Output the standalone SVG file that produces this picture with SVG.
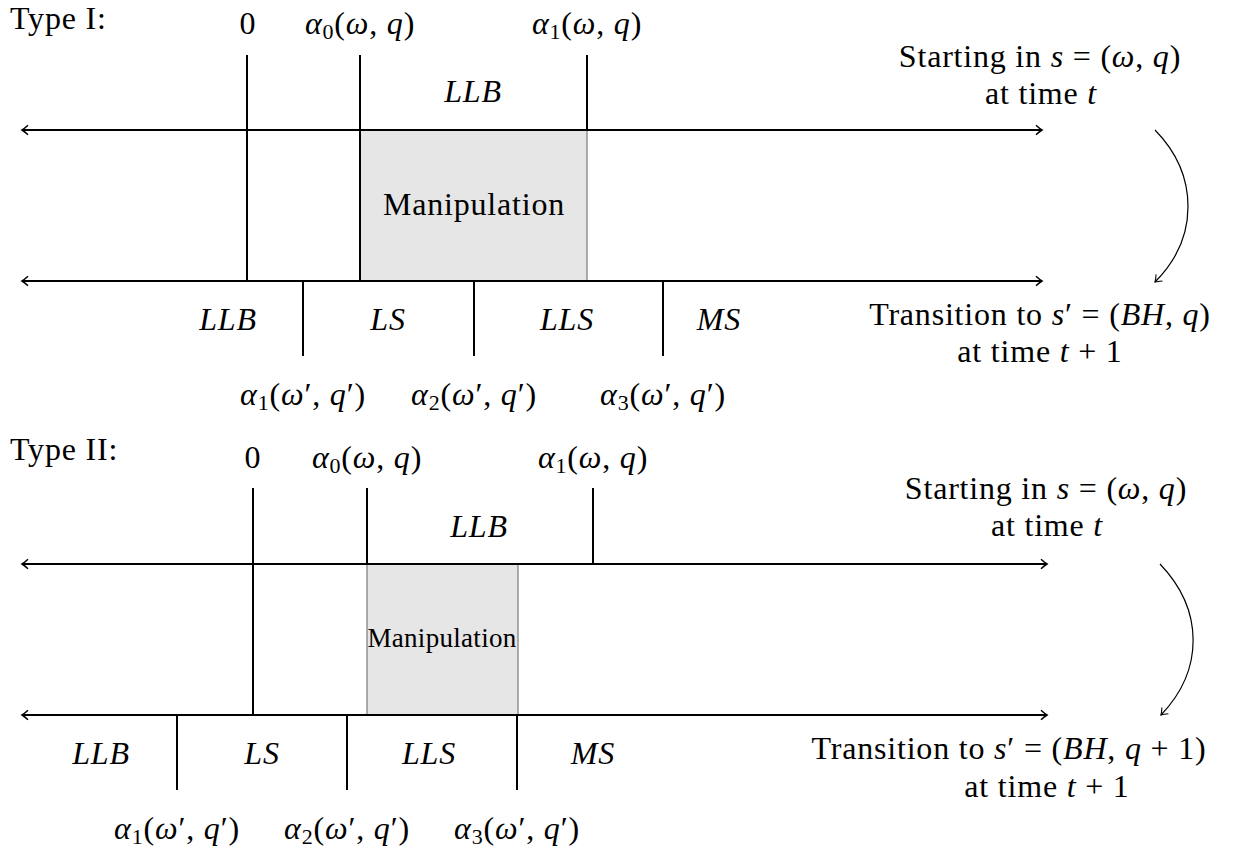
<svg xmlns="http://www.w3.org/2000/svg" width="1249" height="850" viewBox="0 0 1249 850">
<style>
.t{font-family:"Liberation Serif","Times New Roman",serif;font-size:32px;fill:#000;letter-spacing:0.8px}
.m{text-anchor:middle}
.i{font-style:italic}
.sub{font-size:22px}
.ax{stroke:#000;stroke-width:2;fill:none}
.tk{stroke:#000;stroke-width:2;fill:none}
.box{fill:#e6e6e6;stroke:#7a7a7a;stroke-width:1.2}
.cv{stroke:#000;stroke-width:1.2;fill:none}
</style>
<defs>
<marker id="ah" viewBox="-8 -6 10 12" refX="0" refY="0" markerWidth="10" markerHeight="12" orient="auto-start-reverse" markerUnits="userSpaceOnUse">
<path d="M-6,-4.8 Q-2,-1.2 0,0 Q-2,1.2 -6,4.8" fill="none" stroke="#000" stroke-width="1.5"/>
</marker>
<marker id="ah2" viewBox="-8 -6 10 12" refX="0" refY="0" markerWidth="10" markerHeight="12" orient="auto" markerUnits="userSpaceOnUse">
<path d="M-6,-4.5 Q-2,-1 0,0 Q-2,1 -6,4.5" fill="none" stroke="#000" stroke-width="1.1"/>
</marker>
</defs>
<rect width="1249" height="850" fill="#fff"/>

<g id="type1">
<g id="type1-manipulation">
<rect class="box" x="360" y="130" width="227" height="151"/>
<text class="t m" x="474" y="215">Manipulation</text>
</g>
<g id="type1-connectors">
<line class="ax" x1="22" y1="130" x2="1042" y2="130" marker-start="url(#ah)" marker-end="url(#ah)"/>
<line class="ax" x1="22" y1="281" x2="1042" y2="281" marker-start="url(#ah)" marker-end="url(#ah)"/>
<line class="tk" x1="247" y1="55" x2="247" y2="281"/>
<line class="tk" x1="360" y1="55" x2="360" y2="281"/>
<line class="tk" x1="587" y1="55" x2="587" y2="130"/>
<line class="tk" x1="303" y1="281" x2="303" y2="356"/>
<line class="tk" x1="474" y1="281" x2="474" y2="356"/>
<line class="tk" x1="663" y1="281" x2="663" y2="356"/>
<path class="cv" d="M1155,130 C1199,175 1199,238 1155,282" marker-end="url(#ah2)"/>
</g>
<g id="type1-labels">
<text class="t" x="10" y="29">Type I:</text>
<text class="t m" x="248" y="34">0</text>
<text class="t m" x="360" y="34"><tspan class="i">α</tspan><tspan class="sub" dy="5">0</tspan><tspan dy="-5">(</tspan><tspan class="i">ω</tspan>, <tspan class="i">q</tspan>)</text>
<text class="t m" x="587" y="34"><tspan class="i">α</tspan><tspan class="sub" dy="5">1</tspan><tspan dy="-5">(</tspan><tspan class="i">ω</tspan>, <tspan class="i">q</tspan>)</text>
<text class="t m i" x="473" y="102">LLB</text>
<text class="t m i" x="228" y="330">LLB</text>
<text class="t m i" x="388" y="330">LS</text>
<text class="t m i" x="567" y="330">LLS</text>
<text class="t m i" x="719" y="330">MS</text>
<text class="t m" x="303" y="405"><tspan class="i">α</tspan><tspan class="sub" dy="5">1</tspan><tspan dy="-5">(</tspan><tspan class="i">ω</tspan>′, <tspan class="i">q</tspan>′)</text>
<text class="t m" x="474" y="405"><tspan class="i">α</tspan><tspan class="sub" dy="5">2</tspan><tspan dy="-5">(</tspan><tspan class="i">ω</tspan>′, <tspan class="i">q</tspan>′)</text>
<text class="t m" x="663" y="405"><tspan class="i">α</tspan><tspan class="sub" dy="5">3</tspan><tspan dy="-5">(</tspan><tspan class="i">ω</tspan>′, <tspan class="i">q</tspan>′)</text>
<text class="t m" x="1040" y="67">Starting in <tspan class="i">s</tspan> = (<tspan class="i">ω</tspan>, <tspan class="i">q</tspan>)</text>
<text class="t m" x="1041" y="104">at time <tspan class="i">t</tspan></text>
<text class="t m" x="1040" y="325">Transition to <tspan class="i">s</tspan>′ = (<tspan class="i">BH</tspan>, <tspan class="i">q</tspan>)</text>
<text class="t m" x="1040" y="362">at time <tspan class="i">t</tspan> + 1</text>
</g>
</g>

<g id="type2">
<g id="type2-manipulation">
<rect class="box" x="367" y="564" width="151" height="151"/>
<text class="t m" x="442" y="647" style="font-size:27px;letter-spacing:0.3px">Manipulation</text>
</g>
<g id="type2-connectors">
<line class="ax" x1="22" y1="564" x2="1047" y2="564" marker-start="url(#ah)" marker-end="url(#ah)"/>
<line class="ax" x1="22" y1="715" x2="1047" y2="715" marker-start="url(#ah)" marker-end="url(#ah)"/>
<line class="tk" x1="253" y1="488" x2="253" y2="715"/>
<line class="tk" x1="367" y1="488" x2="367" y2="564"/>
<line class="tk" x1="593" y1="488" x2="593" y2="564"/>
<line class="tk" x1="177" y1="715" x2="177" y2="790"/>
<line class="tk" x1="347" y1="715" x2="347" y2="790"/>
<line class="tk" x1="517" y1="715" x2="517" y2="790"/>
<path class="cv" d="M1160,564 C1204,610 1204,670 1161,715" marker-end="url(#ah2)"/>
</g>
<g id="type2-labels">
<text class="t" x="10" y="460">Type II:</text>
<text class="t m" x="253" y="468">0</text>
<text class="t m" x="367" y="468"><tspan class="i">α</tspan><tspan class="sub" dy="5">0</tspan><tspan dy="-5">(</tspan><tspan class="i">ω</tspan>, <tspan class="i">q</tspan>)</text>
<text class="t m" x="593" y="468"><tspan class="i">α</tspan><tspan class="sub" dy="5">1</tspan><tspan dy="-5">(</tspan><tspan class="i">ω</tspan>, <tspan class="i">q</tspan>)</text>
<text class="t m i" x="479" y="537">LLB</text>
<text class="t m i" x="101" y="764">LLB</text>
<text class="t m i" x="262" y="764">LS</text>
<text class="t m i" x="429" y="764">LLS</text>
<text class="t m i" x="593" y="764">MS</text>
<text class="t m" x="177" y="839"><tspan class="i">α</tspan><tspan class="sub" dy="5">1</tspan><tspan dy="-5">(</tspan><tspan class="i">ω</tspan>′, <tspan class="i">q</tspan>′)</text>
<text class="t m" x="347" y="839"><tspan class="i">α</tspan><tspan class="sub" dy="5">2</tspan><tspan dy="-5">(</tspan><tspan class="i">ω</tspan>′, <tspan class="i">q</tspan>′)</text>
<text class="t m" x="517" y="839"><tspan class="i">α</tspan><tspan class="sub" dy="5">3</tspan><tspan dy="-5">(</tspan><tspan class="i">ω</tspan>′, <tspan class="i">q</tspan>′)</text>
<text class="t m" x="1046" y="499">Starting in <tspan class="i">s</tspan> = (<tspan class="i">ω</tspan>, <tspan class="i">q</tspan>)</text>
<text class="t m" x="1047" y="536">at time <tspan class="i">t</tspan></text>
<text class="t m" x="1009" y="759">Transition to <tspan class="i">s</tspan>′ = (<tspan class="i">BH</tspan>, <tspan class="i">q</tspan> + 1)</text>
<text class="t m" x="1047" y="797">at time <tspan class="i">t</tspan> + 1</text>
</g>
</g>
</svg>
